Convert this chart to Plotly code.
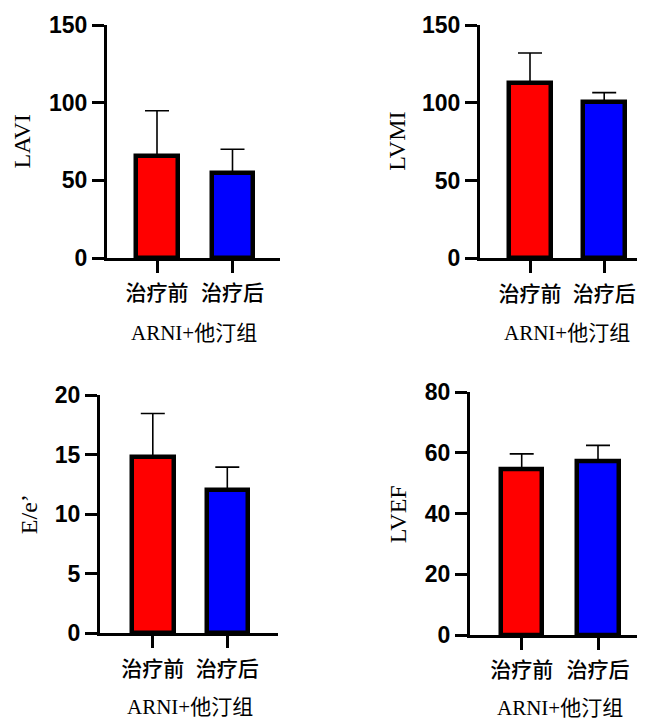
import plotly.graph_objects as go

# page is drawn with the browser's default 8px body margin
OFF = 8
W, H = 645 - OFF, 723 - OFF

categories = ["治疗前", "治疗后"]
group_label = "ARNI+他汀组"

lavi_mean = [65.5, 54.5]
lavi_sd = [29.3, 15.5]
lvmi_mean = [113, 100.5]
lvmi_sd = [19, 6]
ee_mean = [14.8, 12.05]
ee_sd = [3.65, 1.9]
lvef_mean = [54.5, 57.3]
lvef_sd = [5.2, 5.2]

bar_colors = ["#FF0000", "#0000FF"]


def px(x):
    return (x - OFF) / W


def py(y):
    return 1 - (y - OFF) / H


# panel layout in screen pixels
panels = [
    dict(name="LAVI", mean=lavi_mean, sd=lavi_sd, ymax=150, dtick=50,
         ax=107, ex=280, ty=25, by=258, c0=157, c1=232.5,
         ytx=22, xtx=193.5, xty=333),
    dict(name="LVMI", mean=lvmi_mean, sd=lvmi_sd, ymax=150, dtick=50,
         ax=480, ex=645, ty=25, by=258.3, c0=530, c1=604.2,
         ytx=397, xtx=566.7, xty=333),
    dict(name="E/e’", mean=ee_mean, sd=ee_sd, ymax=20, dtick=5,
         ax=100, ex=278, ty=395, by=633.3, c0=152.8, c1=227.3,
         ytx=29, xtx=190, xty=707),
    dict(name="LVEF", mean=lvef_mean, sd=lvef_sd, ymax=80, dtick=20,
         ax=470, ex=645, ty=392.3, by=635, c0=521.7, c1=598,
         ytx=397.5, xtx=560, xty=708),
]

fig = go.Figure()
annotations = []
for i, p in enumerate(panels, start=1):
    xa = "x" if i == 1 else f"x{i}"
    ya = "y" if i == 1 else f"y{i}"
    spacing = p["c1"] - p["c0"]
    r0 = (p["ax"] - p["c0"]) / spacing
    r1 = (p["ex"] - p["c0"]) / spacing
    bar_w = (46 - 4.5) / spacing
    fig.add_trace(go.Bar(
        x=categories, y=p["mean"], xaxis=xa, yaxis=ya,
        width=[bar_w, bar_w],
        marker=dict(color=bar_colors, line=dict(color="black", width=4.5)),
        error_y=dict(type="data", array=p["sd"], arrayminus=[0, 0],
                     symmetric=False, color="black", thickness=1.6, width=12),
        showlegend=False,
    ))
    xkey = "xaxis" if i == 1 else f"xaxis{i}"
    ykey = "yaxis" if i == 1 else f"yaxis{i}"
    fig.update_layout(**{
        xkey: dict(
            domain=[px(p["ax"]), min(px(p["ex"]), 1)],
            anchor=ya, type="category", range=[r0, r1],
            showline=True, linecolor="black", linewidth=3,
            ticks="outside", ticklen=12, tickwidth=3, tickcolor="black",
            tickfont=dict(family="Noto Sans CJK SC", size=21, color="black",
                          weight=500),
            showgrid=False, zeroline=False, fixedrange=True,
            ticklabelstandoff=2, automargin=False,
        ),
        ykey: dict(
            domain=[py(p["by"]), py(p["ty"])],
            anchor=xa, range=[0, p["ymax"]], dtick=p["dtick"], tick0=0,
            showline=True, linecolor="black", linewidth=3,
            ticks="outside", ticklen=12, tickwidth=3, tickcolor="black",
            tickfont=dict(family="Liberation Sans", size=23, color="black",
                          weight="bold"),
            showgrid=False, zeroline=False, fixedrange=True,
            automargin=False,
        ),
    })
    annotations.append(dict(
        text=p["name"], xref="paper", yref="paper",
        x=px(p["ytx"]), y=py((p["ty"] + p["by"]) / 2),
        xanchor="center", yanchor="middle", textangle=-90, showarrow=False,
        font=dict(family="Liberation Serif, Noto Sans CJK SC", size=24, color="black"),
    ))
    annotations.append(dict(
        text=group_label, xref="paper", yref="paper",
        x=px(p["xtx"]), y=py(p["xty"]),
        xanchor="center", yanchor="middle", showarrow=False,
        font=dict(family="Liberation Serif, Noto Sans CJK SC", size=21, color="black"),
    ))

fig.update_layout(
    width=W, height=H,
    margin=dict(l=0, r=0, t=0, b=0, autoexpand=False),
    paper_bgcolor="white", plot_bgcolor="white",
    annotations=annotations,
    bargap=0,
)

fig.write_html("out.html")
